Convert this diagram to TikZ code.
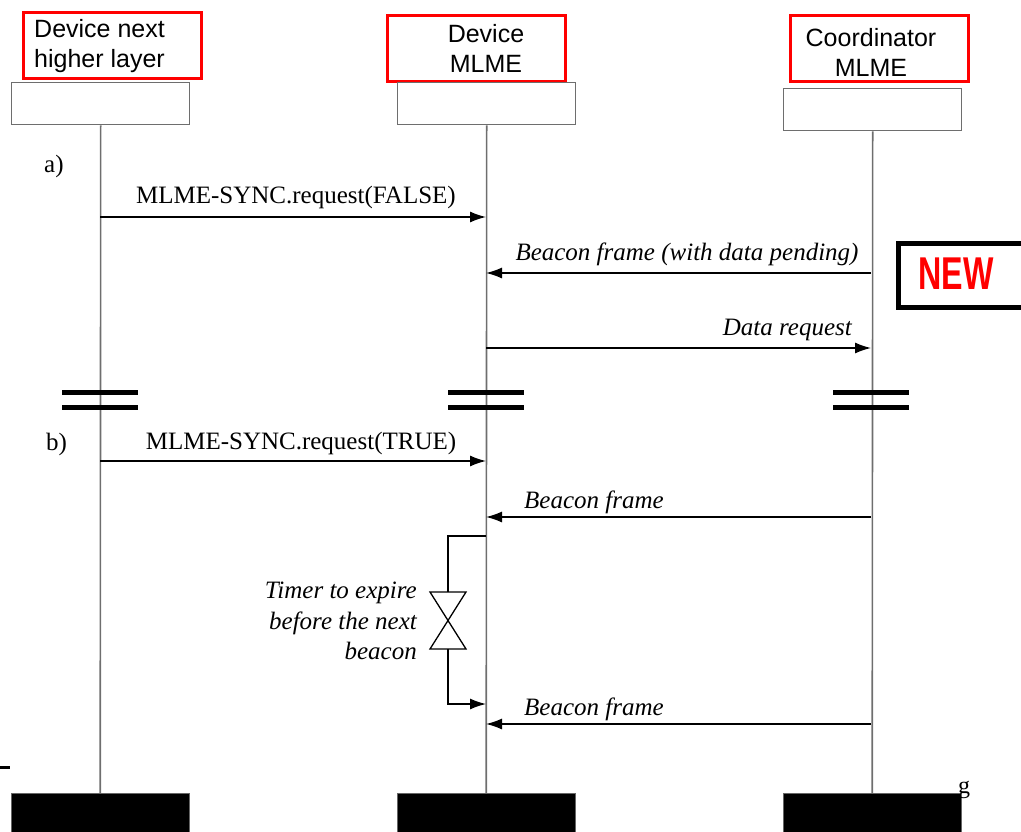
\documentclass[tikz,border=0pt]{standalone}
\usepackage{fontspec}
\setmainfont{Liberation Serif}
\newfontfamily\arial{Liberation Sans}
\usetikzlibrary{arrows.meta}
\definecolor{lifegray}{RGB}{110,110,110}
\definecolor{newred}{RGB}{255,0,0}
\begin{document}
\begin{tikzpicture}[x=1pt,y=-1pt,
  headbox/.style={draw=lifegray,line width=1.4pt,minimum width=178pt,minimum height=42pt,inner sep=0pt,anchor=north west},
  footbox/.style={fill=black,draw=black!60,minimum width=178pt,minimum height=40pt,inner sep=0pt,anchor=north west},
  redbox/.style={draw=newred,line width=3pt,minimum width=178pt,minimum height=66pt,inner sep=0pt,anchor=north west},
  lifeline/.style={draw=lifegray,line width=1.6pt},
  msg/.style={draw=black,line width=1.3pt,-{Latex[length=16pt,width=11pt]}},
  lbl/.style={font=\fontsize{25}{29}\selectfont,inner sep=0pt},
  ilbl/.style={font=\fontsize{25}{29}\selectfont\itshape,inner sep=0pt},
  brk/.style={line width=5pt,draw=black},
  plain/.style={draw=black,line width=1.3pt}]
\useasboundingbox (0,0) rectangle (1021,832);
% red title boxes
\node[redbox] (r1) at (22,11) {};
\node[redbox] (r2) at (386,14) {};
\node[redbox] (r3) at (789,14) {};
\node[font=\arial\fontsize{25}{30}\selectfont,align=left,anchor=west,inner sep=0pt] (t1) at (34,46) {Device next\\higher layer};
\node[font=\arial\fontsize{25}{30}\selectfont,align=center,inner sep=0pt] (t2) at (486,48) {Device\\MLME};
\node[font=\arial\fontsize{25}{30}\selectfont,align=center,inner sep=0pt] (t3) at (871,52) {Coordinator\\MLME};
% head boxes
\node[headbox] (h1) at (11,82) {};
\node[headbox] (h2) at (397,82) {};
\node[headbox] (h3) at (783,88) {};
% foot boxes
\node[footbox] (f1) at (11,793) {};
\node[footbox] (f2) at (397,793) {};
\node[footbox] (f3) at (783,793) {};
% lifelines
\draw[lifeline] (h1.south) -- (f1.north);
\draw[lifeline] (h2.south) -- (f2.north);
\draw[lifeline] (h3.south) -- (f3.north);
% coordinates
\coordinate (a1) at (100,217); \coordinate (a2) at (486,217);
\coordinate (b3) at (871,273); \coordinate (b2) at (486,273);
\coordinate (c2) at (486,348); \coordinate (c3) at (871,348);
\coordinate (d1) at (100,461); \coordinate (d2) at (486,461);
\coordinate (e3) at (871,517); \coordinate (e2) at (486,517);
\coordinate (g3) at (871,724); \coordinate (g2) at (486,724);
% section labels
\node[lbl,anchor=west] (la) at (44,166) {a)};
\node[lbl,anchor=west] (lb) at (46,444) {b)};
% messages
\draw[msg] (a1) -- (a2);
\node[lbl] (m1) at (296,197) {MLME-SYNC.request(FALSE)};
\draw[msg] (b3) -- (b2);
\node[ilbl] (m2) at (687,254) {Beacon frame (with data pending)};
\draw[msg] (c2) -- (c3);
\node[ilbl,anchor=east] (m3) at (852,330) {Data request};
% breaks
\foreach \x/\n in {100/1,486/2,871/3}{
  \draw[brk] (\x-38,392) -- (\x+38,392);
  \draw[brk] (\x-38,407) -- (\x+38,407);
}
\draw[msg] (d1) -- (d2);
\node[lbl] (m4) at (301,443) {MLME-SYNC.request(TRUE)};
\draw[msg] (e3) -- (e2);
\node[ilbl,anchor=west] (m5) at (524,502) {Beacon frame};
% timer
\coordinate (ts) at (486,536);
\coordinate (tt) at (448,592);
\coordinate (tb) at (448,649);
\coordinate (te) at (486,704);
\draw[plain] (ts) -- (448,536) -- (tt);
\draw[plain] (430,592) -- (466,592) -- (430,649) -- (466,649) -- cycle;
\draw[msg] (tb) -- (448,704) -- (te);
\node[ilbl,align=right,anchor=east,font=\fontsize{25}{30.5}\selectfont\itshape] (tm) at (417,621) {Timer to expire\\before the next\\beacon};
\draw[msg] (g3) -- (g2);
\node[ilbl,anchor=west] (m6) at (524,709) {Beacon frame};
% NEW box
\node[draw=black,line width=4.5pt,minimum width=140pt,minimum height=64pt,anchor=north west,inner sep=0pt] (nb) at (896,241) {};
\node[text=newred,font=\arial\bfseries\fontsize{46}{46}\selectfont,inner sep=0pt,xscale=0.7] (nw) at (956,274) {NEW};
% fragments
\draw[black,line width=3pt] (0,767) -- (10,767);
\node[font=\fontsize{24}{28}\selectfont,inner sep=0pt,anchor=west] (gg) at (958,790) {g};
\end{tikzpicture}
\end{document}
